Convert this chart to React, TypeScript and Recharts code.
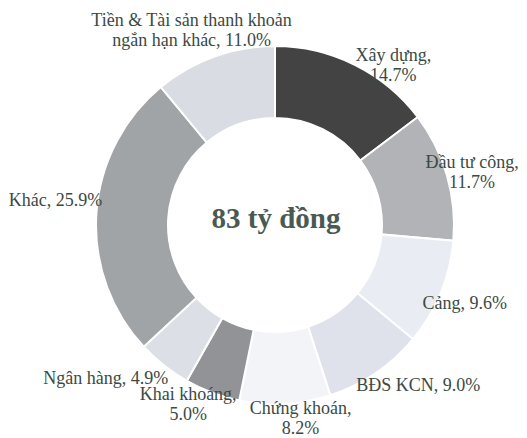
import * as React from 'react'
import { Cell, Label, Pie, PieChart } from 'recharts'

const sectors = [
  'Xây dựng',
  'Đầu tư công',
  'Cảng',
  'BĐS KCN',
  'Chứng khoán',
  'Khai khoáng',
  'Ngân hàng',
  'Khác',
  'Tiền & Tài sản thanh khoản ngắn hạn khác',
]
const shares = [14.7, 11.7, 9.6, 9.0, 8.2, 5.0, 4.9, 25.9, 11.0]
const totalLabel = '83 tỷ đồng'

// words on the first line of each label (rest goes on line 2)
const firstLineWords = [2, 3, 99, 99, 2, 2, 99, 99, 6]

const colors = [
  '#434343',
  '#b1b3b6',
  '#e9edf3',
  '#dfe2ea',
  '#f2f4f7',
  '#919396',
  '#dcdfe5',
  '#a1a4a7',
  '#d9dce2',
]

// small hand nudges so labels sit where the original put them
const nudges = [
  [27, 24],
  [0, 4],
  [0, 0],
  [28, -10],
  [14, -12],
  [-15, -13],
  [-42, -8],
  [-15, -11],
  [-14, -2],
]

const data = sectors.map((name, i) => ({ name, value: shares[i] }))

const TEXT = '#3b4a44'
const FONT = '"Liberation Serif", "Times New Roman", serif'
const RADIAN = Math.PI / 180

function SliceLabel(props: any) {
  const { cx, cy, midAngle, outerRadius, index, name, value } = props
  const r = outerRadius + 26
  const [dx, dy] = nudges[index]
  const x = cx + r * Math.cos(-midAngle * RADIAN) + dx
  const y = cy + r * Math.sin(-midAngle * RADIAN) + dy
  const words = `${name}, ${Number(value).toFixed(1)}%`.split(' ')
  const n = firstLineWords[index]
  const lines = [words.slice(0, n).join(' '), words.slice(n).join(' ')].filter((l) => l.length)
  const lh = 20
  const y0 = y - ((lines.length - 1) * lh) / 2 + 6
  return (
    <text x={x} y={y0} textAnchor="middle" fill={TEXT} fontFamily={FONT} fontSize={18}>
      {lines.map((l, k) => (
        <tspan key={k} x={x} y={y0 + k * lh}>
          {l}
        </tspan>
      ))}
    </text>
  )
}

function CenterLabel(props: any) {
  const { viewBox } = props
  const cx = viewBox?.cx ?? 275
  const cy = viewBox?.cy ?? 225
  return (
    <text x={cx + 1} y={cy + 3} textAnchor="middle" fill="#4a5a52" fontFamily={FONT} fontSize={29} fontWeight="bold">
      {totalLabel}
    </text>
  )
}

export default function App() {
  return (
    <div style={{ position: 'absolute', left: 0, top: 0, width: 527, height: 438, background: '#fff' }}>
      <PieChart width={527} height={438} margin={{ top: 0, right: 0, bottom: 0, left: 0 }}>
        <Pie
          data={data}
          dataKey="value"
          nameKey="name"
          cx={275}
          cy={225}
          innerRadius={107}
          outerRadius={179}
          startAngle={90}
          endAngle={-270}
          stroke="#fff"
          strokeWidth={2}
          label={SliceLabel}
          labelLine={false}
          isAnimationActive={false}
        >
          {data.map((d, i) => (
            <Cell key={d.name} fill={colors[i]} />
          ))}
          <Label position="center" content={CenterLabel} />
        </Pie>
      </PieChart>
    </div>
  )
}
